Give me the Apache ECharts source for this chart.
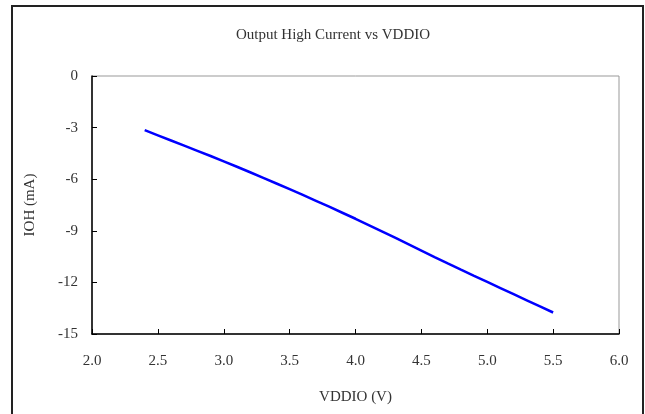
<!DOCTYPE html>
<html>
<head>
<meta charset="utf-8">
<script src="https://cdn.jsdelivr.net/npm/echarts@6/dist/echarts.min.js"></script>
<style>
html,body{margin:0;padding:0;background:#fff;}
#chart{width:645px;height:414px;}
</style>
</head>
<body>
<div id="chart"></div>
<script>
const titleText = 'Output High Current vs VDDIO';
const xName = 'VDDIO (V)';
const yName = 'IOH (mA)';
const vddio = [2.4,2.5,2.6,2.7,2.8,2.9,3.0,3.1,3.2,3.3,3.4,3.5,3.6,3.7,3.8,3.9,4.0,4.1,4.2,4.3,4.4,4.5,4.6,4.7,4.8,4.9,5.0,5.1,5.2,5.3,5.4,5.5];
const ioh = [-3.15,-3.45,-3.75,-4.05,-4.35,-4.65,-4.96,-5.275,-5.595,-5.92,-6.25,-6.58,-6.915,-7.255,-7.6,-7.95,-8.3,-8.665,-9.03,-9.4,-9.775,-10.15,-10.525,-10.895,-11.26,-11.62,-11.975,-12.33,-12.685,-13.04,-13.395,-13.75];

const chart = echarts.init(document.getElementById('chart'), null, {renderer:'canvas'});
const font = '"Liberation Serif", "DejaVu Serif", serif';
const txt = '#333';
chart.setOption({
  animation:false,
  backgroundColor:'#fff',
  title:{text:titleText,left:328,top:23,textAlign:'center',
    textStyle:{fontFamily:font,fontSize:15,fontWeight:'normal',color:txt}},
  graphic:[{type:'rect',shape:{x:12,y:6,width:631,height:420},
    style:{fill:'none',stroke:'#222',lineWidth:2},silent:true}],
  grid:{left:92,right:26,top:76,bottom:80,show:true,borderColor:'#999',borderWidth:1,backgroundColor:'transparent'},
  xAxis:{type:'value',min:2.0,max:6.0,interval:0.5,
    name:xName,nameLocation:'middle',nameGap:56,
    nameTextStyle:{fontFamily:font,fontSize:15,color:txt},
    axisLine:{show:true,onZero:false,lineStyle:{color:'#000',width:1.5}},
    axisTick:{show:true,inside:true,length:5,lineStyle:{color:'#000'}},
    axisLabel:{fontFamily:font,fontSize:15,color:txt,margin:20,formatter:v=>v.toFixed(1)},
    splitLine:{show:false}},
  yAxis:{type:'value',min:-15,max:0,interval:3,
    name:yName,nameLocation:'middle',nameGap:54,nameRotate:90,
    nameTextStyle:{fontFamily:font,fontSize:15,color:txt},
    axisLine:{show:true,onZero:false,lineStyle:{color:'#000',width:1.5}},
    axisTick:{show:true,inside:true,length:5,lineStyle:{color:'#000'}},
    axisLabel:{fontFamily:font,fontSize:15,color:txt,margin:14},
    splitLine:{show:false}},
  series:[{type:'line',data:vddio.map((x,i)=>[x,ioh[i]]),showSymbol:false,smooth:false,
    lineStyle:{color:'#0000FF',width:2.5}}]
});
</script>
</body>
</html>
